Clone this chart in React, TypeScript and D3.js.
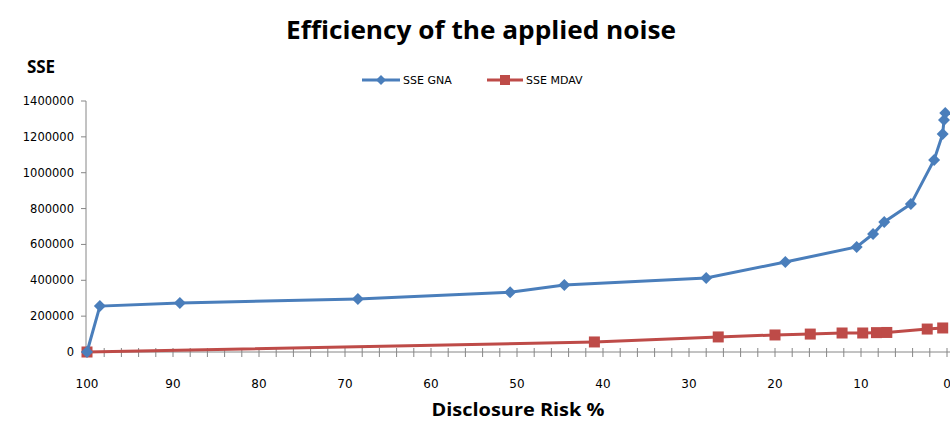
import React from 'react';
import * as d3 from 'd3';

const width = 950;
const height = 423;

// SSE GNA series (disclosure risk %, SSE)
const gnaRisk = [100, 98.5, 89.2, 68.5, 50.8, 44.5, 28, 18.8, 10.5, 8.6, 7.3, 4.2, 1.5, 0.5, 0.35, 0.2];
const gnaSse = [0, 256000, 273000, 296000, 333000, 374000, 413000, 502000, 586000, 658000, 725000, 825000, 1071000, 1216000, 1294000, 1333000];

// SSE MDAV series
const mdavRisk = [100, 41, 26.6, 20, 15.9, 12.2, 9.8, 8.2, 7.0, 2.3, 0.5];
const mdavSse = [0, 56000, 84000, 95000, 100000, 106000, 106000, 108000, 109000, 128000, 134000];

const xTicks = [100, 90, 80, 70, 60, 50, 40, 30, 20, 10, 0];
const yTicks = [0, 200000, 400000, 600000, 800000, 1000000, 1200000, 1400000];

const blue = '#4A7EBB';
const red = '#BE4B48';
const axisColor = '#868686';
const font = 'Verdana, "DejaVu Sans", sans-serif';
const boldFont = '"Open Sans", sans-serif';

const App = () => {
  const x = d3.scaleLinear().domain([100, 0]).range([87, 947]);
  const y = d3.scaleLinear().domain([0, 1400000]).range([352, 101]);

  const line = d3.line<[number, number]>()
    .x(d => x(d[0]))
    .y(d => y(d[1]));

  const gna = gnaRisk.map((r, i) => [r, gnaSse[i]] as [number, number]);
  const mdav = mdavRisk.map((r, i) => [r, mdavSse[i]] as [number, number]);
  const minorTicks = d3.range(0, 101, 2);

  const diamond = (cx: number, cy: number, s = 6) =>
    `M${cx},${cy - s}L${cx + s},${cy}L${cx},${cy + s}L${cx - s},${cy}Z`;

  return (
    <svg width={width} height={height} style={{ position: 'absolute', left: 0, top: 0, background: '#fff' }}>
      <text x={481} y={39} textAnchor="middle" fontFamily={boldFont} fontWeight="bold" fontSize={25} fill="#000" textLength={390} lengthAdjust="spacingAndGlyphs">
        Efficiency of the applied noise
      </text>
      <text x={41} y={73} textAnchor="middle" fontFamily={boldFont} fontWeight="bold" fontSize={17} fill="#000">
        SSE
      </text>

      {/* legend */}
      <g fontFamily={font} fontSize={11} fill="#000">
        <line x1={362} x2={400} y1={80} y2={80} stroke={blue} strokeWidth={3} />
        <path d={diamond(381, 80, 5)} fill={blue} />
        <text x={403} y={84}>SSE GNA</text>
        <line x1={487} x2={523} y1={80} y2={80} stroke={red} strokeWidth={3} />
        <rect x={500} y={75} width={10} height={10} fill={red} />
        <text x={526} y={84}>SSE MDAV</text>
      </g>

      {/* y axis */}
      <line x1={86} x2={86} y1={y(1400000)} y2={y(0)} stroke={axisColor} strokeWidth={1} />
      {yTicks.map(t => (
        <g key={t}>
          <line x1={81} x2={86} y1={y(t)} y2={y(t)} stroke={axisColor} />
          <text x={74} y={y(t) + 4} textAnchor="end" fontFamily={font} fontSize={11.5} fill="#000">{t}</text>
        </g>
      ))}

      {/* x axis */}
      <line x1={86} x2={950} y1={352} y2={352} stroke={axisColor} strokeWidth={1} />
      {minorTicks.map(t => (
        <line key={t} x1={x(t)} x2={x(t)} y1={348} y2={357} stroke={axisColor} />
      ))}
      {xTicks.map(t => (
        <text key={t} x={x(t)} y={388} textAnchor="middle" fontFamily={font} fontSize={12} fill="#000">{t}</text>
      ))}
      <text x={518} y={416} textAnchor="middle" fontFamily={boldFont} fontWeight="bold" fontSize={18} fill="#000" textLength={173} lengthAdjust="spacingAndGlyphs">
        Disclosure Risk %
      </text>

      {/* series */}
      <path d={line(mdav) ?? ''} fill="none" stroke={red} strokeWidth={3} />
      {mdav.map((d, i) => (
        <rect key={i} x={x(d[0]) - 5.5} y={y(d[1]) - 5.5} width={11} height={11} fill={red} />
      ))}
      <path d={line(gna) ?? ''} fill="none" stroke={blue} strokeWidth={3} />
      {gna.map((d, i) => (
        <path key={i} d={diamond(x(d[0]), y(d[1]))} fill={blue} />
      ))}
    </svg>
  );
};

export default App;
